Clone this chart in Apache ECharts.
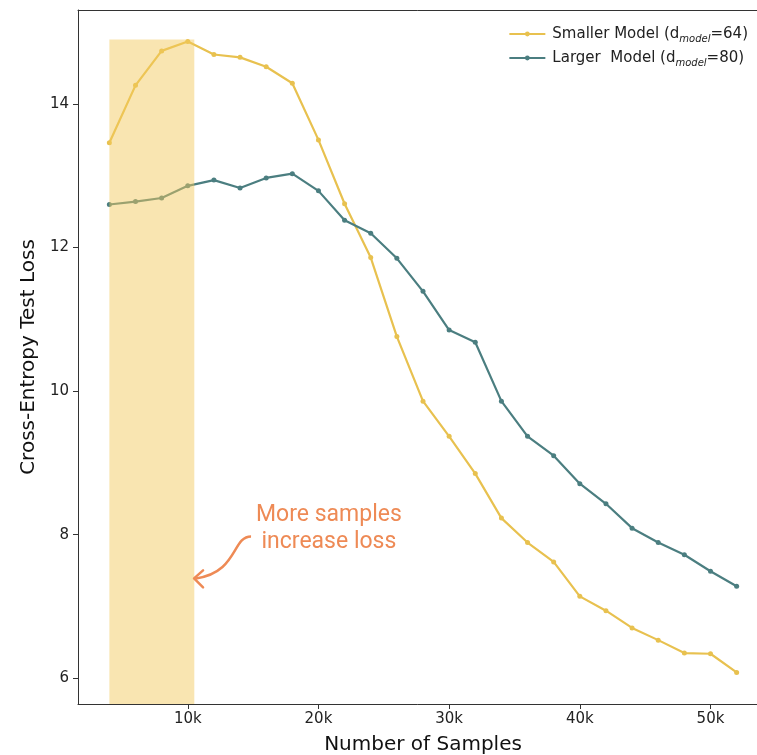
<!DOCTYPE html>
<html>
<head>
<meta charset="utf-8">
<script src="https://cdn.jsdelivr.net/npm/echarts@6/dist/echarts.min.js"></script>
<style>
  html, body { margin: 0; padding: 0; background: #fff; }
  #chart { width: 757px; height: 755px; }
</style>
</head>
<body>
<div id="chart"></div>
<script>
// samples in thousands
const samplesK = [4, 6, 8, 10, 12, 14, 16, 18, 20, 22, 24, 26, 28, 30, 32, 34, 36, 38, 40, 42, 44, 46, 48, 50, 52];

const smallerLoss = [13.46, 14.26, 14.74, 14.87, 14.69, 14.65, 14.52, 14.29, 13.50, 12.61, 11.86, 10.76,
  9.86, 9.37, 8.85, 8.23, 7.89, 7.62, 7.14, 6.94, 6.70, 6.53, 6.35, 6.34, 6.08];

const largerLoss = [12.60, 12.64, 12.69, 12.86, 12.94, 12.83, 12.97, 13.03, 12.79, 12.38, 12.20, 11.85,
  11.39, 10.85, 10.68, 9.86, 9.37, 9.10, 8.71, 8.43, 8.09, 7.89, 7.72, 7.49, 7.28];

const xTicks = [10, 20, 30, 40, 50];
const yTicks = [6, 8, 10, 12, 14];

// shaded "more samples increase loss" band
const bandX = [4, 10.5];
const bandTop = 14.9;

const X_MIN = 1.6;
const X_MAX = 54.4;
const Y_MIN = 5.64;
const Y_MAX = 15.31;

const YELLOW = '#E8C14F';
const TEAL = '#4B7E80';
const ORANGE = '#EE8A55';
const FONT = 'DejaVu Sans, sans-serif';

const chart = echarts.init(document.getElementById('chart'), null, { renderer: 'canvas' });

const pairs = (ys) => samplesK.map((x, i) => [x, ys[i]]);

const legendRich = {
  n: { fontSize: 15, fontFamily: FONT, color: '#222', lineHeight: 20 },
  s: { fontSize: 10, fontFamily: FONT, fontStyle: 'italic', color: '#222', verticalAlign: 'bottom', lineHeight: 14, padding: [8, 0, 0, 0] },
};

chart.setOption({
  animation: false,
  grid: {
    left: 78,
    top: 10,
    width: 690,
    height: 694,
    outerBoundsMode: 'none',
    containLabel: false,
    show: false,
  },
  legend: {
    orient: 'vertical',
    right: 4,
    top: 21,
    itemWidth: 36,
    itemHeight: 6,
    itemGap: 6,
    data: ['Smaller', 'Larger'],
    formatter: (name) => name === 'Smaller'
      ? '{n|Smaller Model (d}{s|model}{n|=64)}'
      : '{n|Larger  Model (d}{s|model}{n|=80)}',
    textStyle: { rich: legendRich, padding: [0, 0, 0, 2] },
  },
  xAxis: [
    {
      type: 'value',
      min: X_MIN,
      max: X_MAX,
      name: 'Number of Samples',
      nameLocation: 'middle',
      nameGap: 31,
      nameTextStyle: { fontSize: 20, fontFamily: FONT, color: '#111' },
      axisLine: { show: true, lineStyle: { color: '#333', width: 1 } },
      axisTick: { show: true, customValues: xTicks, length: 5, lineStyle: { color: '#333' } },
      axisLabel: {
        customValues: xTicks,
        formatter: (v) => v + 'k',
        fontSize: 15,
        fontFamily: FONT,
        color: '#222',
        margin: 8,
      },
      splitLine: { show: false },
    },
    {
      // top spine only
      type: 'value',
      position: 'top',
      min: X_MIN,
      max: X_MAX,
      axisLine: { show: true, lineStyle: { color: '#333', width: 1 } },
      axisTick: { show: false },
      axisLabel: { show: false },
      splitLine: { show: false },
    },
  ],
  yAxis: {
    type: 'value',
    min: Y_MIN,
    max: Y_MAX,
    name: 'Cross-Entropy Test Loss',
    nameLocation: 'middle',
    nameGap: 30,
    nameTextStyle: { fontSize: 20, fontFamily: FONT, color: '#111' },
    axisLine: { show: true, lineStyle: { color: '#333', width: 1 } },
    axisTick: { show: true, customValues: yTicks, length: 5, lineStyle: { color: '#333' } },
    axisLabel: {
      customValues: yTicks,
      fontSize: 15,
      fontFamily: FONT,
      color: '#222',
      margin: 9,
    },
    splitLine: { show: false },
  },
  series: [
    {
      name: 'Smaller',
      type: 'line',
      data: pairs(smallerLoss),
      color: YELLOW,
      symbol: 'circle',
      symbolSize: 5,
      lineStyle: { width: 2.2, color: YELLOW },
      itemStyle: { color: YELLOW },
      z: 2,
    },
    {
      name: 'Larger',
      type: 'line',
      data: pairs(largerLoss),
      color: TEAL,
      symbol: 'circle',
      symbolSize: 5,
      lineStyle: { width: 2.2, color: TEAL },
      itemStyle: { color: TEAL },
      z: 2,
    },
    {
      // carrier for the translucent band, drawn over the lines
      name: 'band',
      type: 'line',
      data: [],
      silent: true,
      z: 10,
      markArea: {
        silent: true,
        z: 10,
        itemStyle: { color: 'rgba(243, 201, 92, 0.48)' },
        data: [[{ xAxis: bandX[0], yAxis: bandTop }, { xAxis: bandX[1], yAxis: Y_MIN }]],
      },
    },
  ],
});

// annotation placed from data coordinates
const tip = chart.convertToPixel({ gridIndex: 0 }, [10.48, 7.39]);
const label = chart.convertToPixel({ gridIndex: 0 }, [20.8, 8.08]);
const [tx, ty] = tip;

chart.setOption({
  graphic: [
    {
      type: 'text',
      x: label[0],
      y: label[1],
      style: {
        text: 'More samples\nincrease loss',
        fill: ORANGE,
        font: '23px Roboto, sans-serif',
        align: 'center',
        verticalAlign: 'middle',
        lineHeight: 27,
      },
      z: 10,
    },
    {
      type: 'bezierCurve',
      shape: {
        x1: tx + 57, y1: ty - 42,
        cpx1: tx + 38, cpy1: ty - 42,
        cpx2: tx + 44, cpy2: ty - 6,
        x2: tx + 2, y2: ty,
      },
      style: { stroke: ORANGE, lineWidth: 2.5, fill: null },
      z: 10,
    },
    {
      type: 'polyline',
      shape: { points: [[tx + 9, ty - 8], [tx, ty], [tx + 9, ty + 9]] },
      style: { stroke: ORANGE, lineWidth: 2.5, fill: null, lineCap: 'round', lineJoin: 'round' },
      z: 10,
    },
  ],
});
</script>
</body>
</html>
